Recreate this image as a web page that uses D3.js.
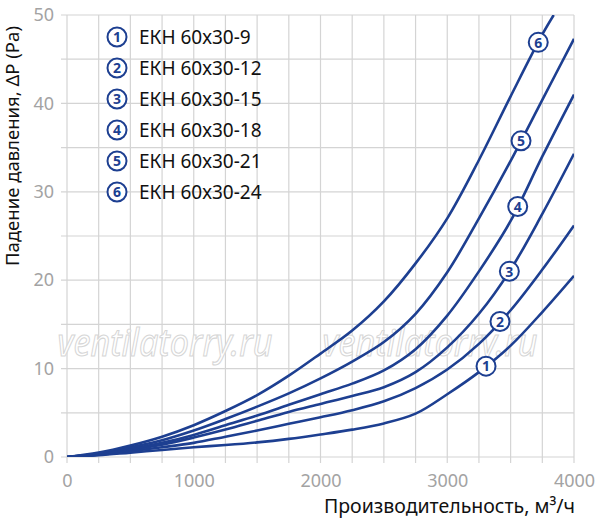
<!DOCTYPE html>
<html>
<head>
<meta charset="utf-8">
<script src="https://cdn.jsdelivr.net/npm/d3@7"></script>
<style>
  body { margin: 0; background: #fff; }
  svg { display: block; }
  text { font-family: "Noto Sans", sans-serif; }
</style>
</head>
<body>
<svg id="chart" width="597" height="523"></svg>
<script>
// air flow, m3/h
const flow = [0, 250, 500, 750, 1000, 1250, 1500, 1750, 2000, 2250, 2500, 2750, 3000, 3250, 3500, 3750, 4000];
const flowTop = [0, 250, 500, 750, 1000, 1250, 1500, 1750, 2000, 2250, 2500, 2750, 3000, 3250, 3500, 3750, 3840];

// pressure drop, Pa
const ekn9 = [0, 0.2, 0.5, 0.8, 1.1, 1.35, 1.65, 2.05, 2.55, 3.1, 3.8, 4.9, 7.1, 9.6, 12.6, 16.4, 20.5];
const ekn12 = [0, 0.25, 0.65, 1.1, 1.6, 2.3, 3.0, 3.75, 4.5, 5.3, 6.3, 7.8, 9.9, 12.8, 16.6, 21.2, 26.2];
const ekn15 = [0, 0.3, 0.8, 1.4, 2.2, 3.1, 4.1, 5.1, 6.0, 6.9, 7.9, 9.6, 12.4, 16.2, 21.2, 27.5, 34.3];
const ekn18 = [0, 0.35, 0.9, 1.6, 2.5, 3.6, 4.7, 5.9, 7.1, 8.3, 9.8, 12.2, 16.0, 21.0, 26.7, 34.0, 41.0];
const ekn21 = [0, 0.4, 1.1, 1.9, 3.0, 4.3, 5.7, 7.2, 8.9, 10.8, 13.0, 16.2, 20.9, 27.0, 33.5, 40.4, 47.3];
const ekn24 = [0, 0.5, 1.3, 2.3, 3.6, 5.2, 7.0, 9.2, 11.7, 14.3, 17.6, 21.9, 27.0, 33.6, 40.8, 47.8, 50];

const names = ["ЕКН 60х30-9", "ЕКН 60х30-12", "ЕКН 60х30-15", "ЕКН 60х30-18", "ЕКН 60х30-21", "ЕКН 60х30-24"];
// where the number badges sit on each curve (flow)
const badgeFlow = [3306, 3416, 3490, 3556, 3582, 3718];

const xTicks = [0, 1000, 2000, 3000, 4000];
const yTicks = [0, 10, 20, 30, 40, 50];

const series = [
  { x: flow, y: ekn9 },
  { x: flow, y: ekn12 },
  { x: flow, y: ekn15 },
  { x: flow, y: ekn18 },
  { x: flow, y: ekn21 },
  { x: flowTop, y: ekn24 }
];

const blue = "#1d3f91";
const gridColor = "#d4d4d4";

const svg = d3.select("#chart");
const x = d3.scaleLinear().domain([0, 4000]).range([67, 574]);
const y = d3.scaleLinear().domain([0, 50]).range([457, 15]);

// grid
const grid = svg.append("g");
grid.selectAll("line.v")
  .data(d3.range(0, 4001, 250))
  .join("line")
  .attr("x1", d => x(d)).attr("x2", d => x(d))
  .attr("y1", y(50)).attr("y2", y(0) + 6)
  .attr("stroke", gridColor).attr("stroke-width", 1.2);
grid.selectAll("line.h")
  .data(d3.range(0, 51, 5))
  .join("line")
  .attr("class", "h")
  .attr("x1", x(0) - 6).attr("x2", x(4000))
  .attr("y1", d => y(d)).attr("y2", d => y(d))
  .attr("stroke", gridColor).attr("stroke-width", 1.2);

// axes labels
const xAxis = svg.append("g")
  .attr("transform", `translate(0,${y(0)})`)
  .call(d3.axisBottom(x).tickValues(xTicks).tickSize(0).tickPadding(17).tickFormat(d3.format("d")));
const yAxis = svg.append("g")
  .attr("transform", `translate(${x(0)},0)`)
  .call(d3.axisLeft(y).tickValues(yTicks).tickSize(0).tickPadding(13));
[xAxis, yAxis].forEach(a => {
  a.select(".domain").remove();
  a.selectAll("text")
    .attr("font-family", "\"Noto Sans\", sans-serif")
    .attr("font-size", 18)
    .attr("fill", "#a3a3a3");
});

// watermark
[165, 430].forEach(cx => {
  svg.append("text")
    .attr("x", cx).attr("y", 356)
    .attr("text-anchor", "middle")
    .attr("font-size", 38)
    .attr("font-style", "italic")
    .attr("textLength", 215)
    .attr("lengthAdjust", "spacingAndGlyphs")
    .attr("fill", "#fff")
    .attr("stroke", "#d6d6d6")
    .attr("stroke-width", 1.1)
    .text("ventilatorry.ru");
});

// curves
svg.append("clipPath").attr("id", "plot")
  .append("rect").attr("x", x(0)).attr("y", y(50)).attr("width", x(4000) - x(0)).attr("height", y(0) - y(50));

const line = d3.line()
  .x(d => x(d[0]))
  .y(d => y(d[1]))
  .curve(d3.curveCatmullRom.alpha(0.5));

svg.append("g").attr("clip-path", "url(#plot)")
  .selectAll("path")
  .data(series)
  .join("path")
  .attr("d", s => line(s.x.map((v, i) => [v, s.y[i]])))
  .attr("fill", "none")
  .attr("stroke", blue)
  .attr("stroke-width", 2.6);

function valueAt(s, f) {
  const i = d3.bisectRight(s.x, f);
  const t = (f - s.x[i - 1]) / (s.x[i] - s.x[i - 1]);
  return s.y[i - 1] + t * (s.y[i] - s.y[i - 1]);
}

function badge(g, label) {
  g.append("circle").attr("r", 9.5).attr("fill", "#fff").attr("stroke", blue).attr("stroke-width", 2);
  g.append("text")
    .attr("text-anchor", "middle").attr("dy", "0.37em")
    .attr("font-size", 14).attr("font-weight", "bold")
    .attr("fill", blue)
    .text(label);
}

series.forEach((s, i) => {
  const g = svg.append("g")
    .attr("transform", `translate(${x(badgeFlow[i])},${y(valueAt(s, badgeFlow[i]))})`);
  badge(g, i + 1);
});

// legend
const legend = svg.append("g");
names.forEach((n, i) => {
  const row = legend.append("g").attr("transform", `translate(117,${37 + i * 31})`);
  badge(row, i + 1);
  row.append("text")
    .attr("x", 22).attr("dy", "0.36em")
    .attr("font-size", 19)
    .attr("fill", "#111")
    .text(n);
});

// titles
svg.append("text")
  .attr("transform", `translate(19,146) rotate(-90)`)
  .attr("text-anchor", "middle")
  .attr("font-size", 18.5)
  .attr("fill", "#111")
  .text("Падение давления, ΔP (Pa)");

svg.append("text")
  .attr("x", 575).attr("y", 513)
  .attr("text-anchor", "end")
  .attr("font-size", 19.5)
  .attr("fill", "#111")
  .text("Производительность, м³/ч");
</script>
</body>
</html>
